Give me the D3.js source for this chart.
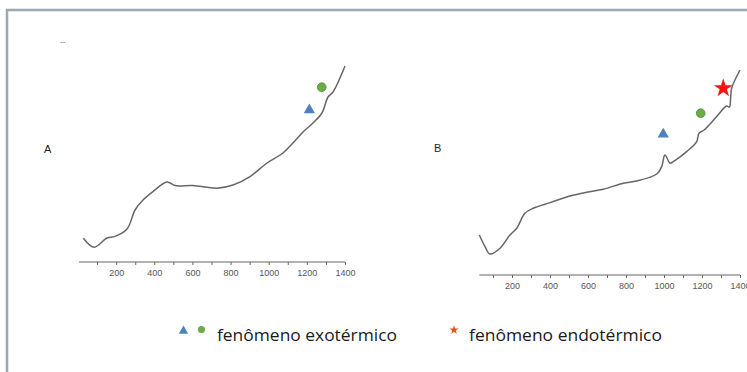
<!DOCTYPE html>
<html>
<head>
<meta charset="utf-8">
<script src="https://cdn.jsdelivr.net/npm/d3@7"></script>
<style>
  body { margin: 0; background: #fff; }
  svg { display: block; }
</style>
</head>
<body>
<div id="chart"></div>
<script>
// temperature (°C) and signal
var tempA   = [28, 85, 152, 194, 257, 299, 341, 393, 467, 509, 603, 729, 813, 902, 991, 1075, 1127, 1180, 1232, 1279, 1311, 1337, 1400];
var signalA = [11.9, 7.4, 12, 12.8, 16.5, 26, 31, 35.2, 40, 38.2, 38.2, 36.9, 38.5, 42.7, 49.5, 54.5, 59.5, 65, 69.5, 74.5, 82.5, 85, 98];

var tempB   = [28, 58, 84, 137, 189, 225, 268, 312, 400, 505, 593, 681, 786, 856, 962, 988, 1005, 1032, 1049, 1119, 1172, 1184, 1211, 1277, 1330, 1344, 1351, 1356, 1400];
var signalB = [20, 14.2, 10.5, 13.4, 20, 23.4, 30.9, 33.4, 36.2, 39.5, 41.4, 42.9, 45.9, 47, 50.5, 54.2, 60, 55.9, 56.7, 61.7, 66.7, 70.9, 72.5, 79.2, 84.5, 83.9, 89.2, 93.4, 102.5];

// markers: [temperature, signal]
var triangleA = [1213, 76];
var circleA   = [1278, 87.4];
var triangleB = [996, 70.4];
var circleB   = [1193, 80.9];
var starB     = [1312, 93.4];

var tickValues  = d3.range(100, 1401, 100);
var tickLabels  = [200, 400, 600, 800, 1000, 1200, 1400];
var legendTexts = ["fenômeno exotérmico", "fenômeno endotérmico"];

var W = 747, H = 372;
var blue = "#4f81bd", green = "#6aac46", red = "#ff1111";

var svg = d3.select("#chart").append("svg")
    .attr("width", W).attr("height", H);

// frame
svg.append("path")
    .attr("d", "M7," + H + "V10H" + W)
    .attr("fill", "none")
    .attr("stroke", "#9ba7b5")
    .attr("stroke-width", 2.5);

svg.append("text")
    .attr("x", 60).attr("y", 44)
    .attr("font-family", "Arial, Liberation Sans, sans-serif")
    .attr("font-size", 8).attr("fill", "#666")
    .text("--");

function panel(cfg) {
    var x = d3.scaleLinear().domain([0, 1400]).range([cfg.x0, cfg.x1]);
    var y = d3.scaleLinear().domain([0, 100]).range([cfg.axisY, cfg.axisY - 200]);

    var g = svg.append("g");

    var axis = d3.axisBottom(x)
        .tickValues(tickValues)
        .tickSize(3)
        .tickFormat(function(d){ return tickLabels.indexOf(d) >= 0 ? d : ""; });

    var ax = g.append("g")
        .attr("transform", "translate(0," + cfg.axisY + ")")
        .call(axis);
    ax.select(".domain")
        .attr("d", "M" + x(cfg.start) + ",0H" + x(1400))
        .attr("stroke", "#666");
    ax.selectAll(".tick line").attr("stroke", "#666");
    ax.selectAll(".tick text")
        .attr("y", 8)
        .attr("font-family", "Arial, Liberation Sans, sans-serif")
        .attr("font-size", 9)
        .attr("fill", "#555");

    var line = d3.line()
        .x(function(d){ return x(d[0]); })
        .y(function(d){ return y(d[1]); })
        .curve(d3.curveCatmullRom.alpha(0.5));

    g.append("path")
        .datum(d3.zip(cfg.temp, cfg.signal))
        .attr("d", line)
        .attr("fill", "none")
        .attr("stroke", "#666")
        .attr("stroke-width", 1.5);

    g.append("text")
        .attr("x", cfg.labelX).attr("y", cfg.labelY)
        .attr("font-family", "Arial, Liberation Sans, sans-serif")
        .attr("font-size", 11).attr("fill", "#222")
        .text(cfg.label);

    cfg.markers.forEach(function(m){
        g.append("path")
            .attr("transform", "translate(" + x(m.p[0]) + "," + y(m.p[1]) + ")")
            .attr("d", d3.symbol().type(m.type).size(m.size))
            .attr("fill", m.fill)
            .attr("stroke", m.stroke || "none")
            .attr("stroke-width", 0.8);
    });
}

panel({
    x0: 78, x1: 345, axisY: 262, start: 5,
    temp: tempA, signal: signalA,
    label: "A", labelX: 44, labelY: 153,
    markers: [
        {p: triangleA, type: d3.symbolTriangle, size: 55, fill: blue},
        {p: circleA, type: d3.symbolCircle, size: 60, fill: green, stroke: "#4f8a35"}
    ]
});

panel({
    x0: 474, x1: 740, axisY: 275, start: 28,
    temp: tempB, signal: signalB,
    label: "B", labelX: 434, labelY: 152,
    markers: [
        {p: triangleB, type: d3.symbolTriangle, size: 55, fill: blue},
        {p: circleB, type: d3.symbolCircle, size: 60, fill: green, stroke: "#4f8a35"},
        {p: starB, type: d3.symbolStar, size: 110, fill: red}
    ]
});

// legend
var lg = svg.append("g");
lg.append("path")
    .attr("transform", "translate(183.5,331)")
    .attr("d", d3.symbol().type(d3.symbolTriangle).size(38))
    .attr("fill", blue);
lg.append("path")
    .attr("transform", "translate(201.5,329.5)")
    .attr("d", d3.symbol().type(d3.symbolCircle).size(40))
    .attr("fill", green);
lg.append("path")
    .attr("transform", "translate(454,330)")
    .attr("d", d3.symbol().type(d3.symbolStar).size(26))
    .attr("fill", "#e8501a");

var legendX = [217, 469], legendW = [180, 193];
lg.selectAll("text.leg")
    .data(legendTexts)
    .enter().append("text")
    .attr("class", "leg")
    .attr("x", function(d, i){ return legendX[i]; })
    .attr("y", 341)
    .attr("font-family", "Open Sans, Noto Sans, sans-serif")
    .attr("font-size", 16)
    .attr("textLength", function(d, i){ return legendW[i]; })
    .attr("lengthAdjust", "spacingAndGlyphs")
    .attr("fill", "#1a1a1a")
    .text(function(d){ return d; });
</script>
</body>
</html>
